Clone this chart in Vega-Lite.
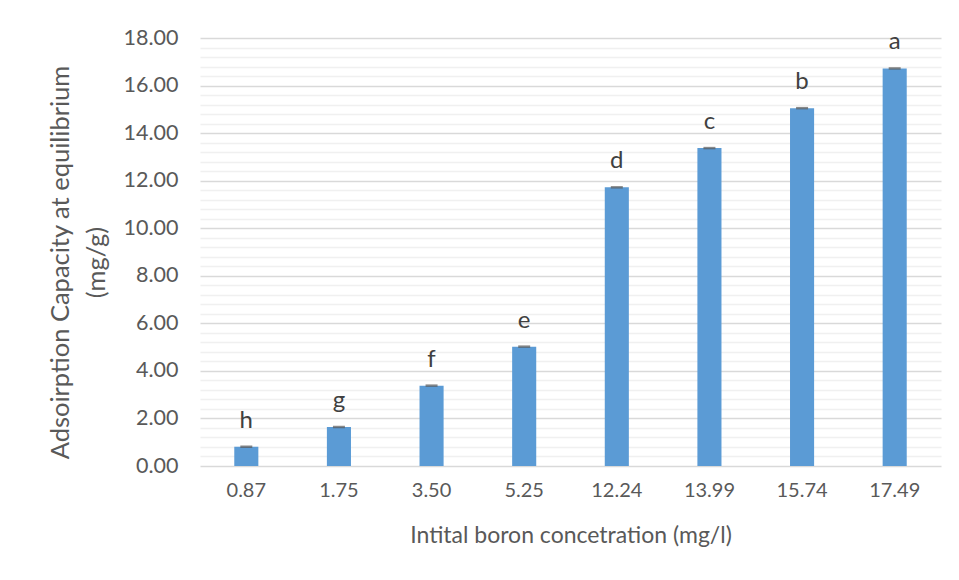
{
  "$schema": "https://vega.github.io/schema/vega-lite/v6.json",
  "autosize": "none",
  "width": 741,
  "height": 428,
  "padding": {"left": 200, "top": 38, "right": 18, "bottom": 114},
  "background": "white",
  "config": {
    "font": "Lato",
    "view": {"stroke": null}
  },
  "data": {
    "values": [
      {"conc": "0.87", "q": 0.81, "letter": "h"},
      {"conc": "1.75", "q": 1.64, "letter": "g"},
      {"conc": "3.50", "q": 3.38, "letter": "f"},
      {"conc": "5.25", "q": 5.02, "letter": "e"},
      {"conc": "12.24", "q": 11.72, "letter": "d"},
      {"conc": "13.99", "q": 13.37, "letter": "c"},
      {"conc": "15.74", "q": 15.05, "letter": "b"},
      {"conc": "17.49", "q": 16.72, "letter": "a"}
    ]
  },
  "encoding": {
    "x": {
      "field": "conc",
      "type": "ordinal",
      "sort": null,
      "scale": {"paddingInner": 0.74, "paddingOuter": 0.37},
      "axis": {
        "title": "Intital boron concetration (mg/l)",
        "titleFontSize": 23,
        "titleFontWeight": "normal",
        "titleColor": "#595959",
        "titlePadding": 24,
        "labelAngle": 0,
        "labelFontSize": 20,
        "labelColor": "#595959",
        "labelPadding": 14,
        "ticks": false,
        "domain": false
      }
    },
    "y": {
      "field": "q",
      "type": "quantitative",
      "scale": {"domain": [0, 18], "nice": false},
      "axis": {
        "title": ["Adsoirption Capacity at equilibrium", "(mg/g)"],
        "titleFontSize": 25.5,
        "titleFontWeight": "normal",
        "titleColor": "#595959",
        "titleLineHeight": 36,
        "titlePadding": 14,
        "titleY": 224,
        "values": [0, 0.4, 0.8, 1.2, 1.6, 2, 2.4, 2.8, 3.2, 3.6, 4, 4.4, 4.8, 5.2, 5.6, 6, 6.4, 6.8, 7.2, 7.6, 8, 8.4, 8.8, 9.2, 9.6, 10, 10.4, 10.8, 11.2, 11.6, 12, 12.4, 12.8, 13.2, 13.6, 14, 14.4, 14.8, 15.2, 15.6, 16, 16.4, 16.8, 17.2, 17.6, 18],
        "labelExpr": "abs(datum.value/2 - round(datum.value/2)) < 0.01 ? format(datum.value, '.2f') : ''",
        "labelFontSize": 21.5,
        "labelColor": "#595959",
        "labelPadding": 22,
        "ticks": false,
        "domain": false,
        "gridColor": {"condition": {"test": "abs(datum.value/2 - round(datum.value/2)) < 0.01", "value": "#d9d9d9"}, "value": "#f0f0f0"},
        "gridWidth": 1.3
      }
    }
  },
  "layer": [
    {"mark": {"type": "bar", "color": "#5b9bd5"}},
    {"mark": {"type": "tick", "color": "#595959", "size": 12, "thickness": 2.5}},
    {
      "mark": {"type": "text", "fontSize": 24, "color": "#404040", "baseline": "alphabetic", "dy": -19},
      "encoding": {"text": {"field": "letter"}}
    }
  ]
}
